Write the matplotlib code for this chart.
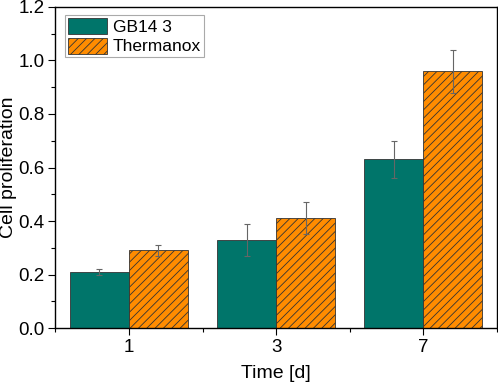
import numpy as np
import matplotlib.pyplot as plt
from matplotlib.ticker import MultipleLocator

plt.rcParams['font.family'] = ['Liberation Sans', 'DejaVu Sans']
plt.rcParams['hatch.linewidth'] = 0.6
plt.rcParams['hatch.color'] = '#5a3000'

# data
days = ['1', '3', '7']
gb14 = [0.21, 0.33, 0.63]
gb14_err = [0.01, 0.06, 0.07]
thermanox = [0.29, 0.41, 0.96]
thermanox_err = [0.02, 0.06, 0.08]

x = np.arange(len(days))
w = 0.4

fig = plt.figure(figsize=(4.98, 3.86), dpi=100)
ax = fig.add_axes([0.111, 0.150, 0.887, 0.832])

ax.bar(x - w / 2, gb14, w, color='#00756a', edgecolor='#333333', linewidth=0.6,
       label='GB14 3')
ax.bar(x + w / 2, thermanox, w, color='#ff8c00', edgecolor='#333333', linewidth=0.6,
       hatch='////', label='Thermanox')
ax.errorbar(x - w / 2, gb14, yerr=gb14_err, fmt='none', ecolor='#666666',
            elinewidth=0.8, capsize=2.2, capthick=0.8)
ax.errorbar(x + w / 2, thermanox, yerr=thermanox_err, fmt='none', ecolor='#666666',
            elinewidth=0.8, capsize=2.2, capthick=0.8)

ax.set_xlim(-0.5, 2.5)
ax.set_ylim(0, 1.2)
ax.set_xticks(x)
ax.set_xticklabels(days)
ax.xaxis.set_minor_locator(MultipleLocator(0.5))
ax.yaxis.set_major_locator(MultipleLocator(0.2))
ax.yaxis.set_minor_locator(MultipleLocator(0.1))
ax.yaxis.set_major_formatter(plt.FormatStrFormatter('%.1f'))
ax.tick_params(which='major', length=5, width=0.8, labelsize=13.5, direction='out', pad=2.5)
ax.tick_params(which='minor', length=3, width=0.8, direction='out')
for s in ax.spines.values():
    s.set_linewidth(1.0)

ax.set_xlabel('Time [d]', fontsize=14, labelpad=7)
ax.set_ylabel('Cell proliferation', fontsize=14, labelpad=1)

leg = ax.legend(loc='upper left', fontsize=12.5, fancybox=False, framealpha=1,
                edgecolor='#aaaaaa', handlelength=2.25, handleheight=1.05,
                handletextpad=0.35, borderpad=0.15, labelspacing=0.17,
                borderaxespad=0, bbox_to_anchor=(0.0226, 0.975))
leg.get_frame().set_linewidth(0.8)

fig.savefig('out.png', dpi=100)
